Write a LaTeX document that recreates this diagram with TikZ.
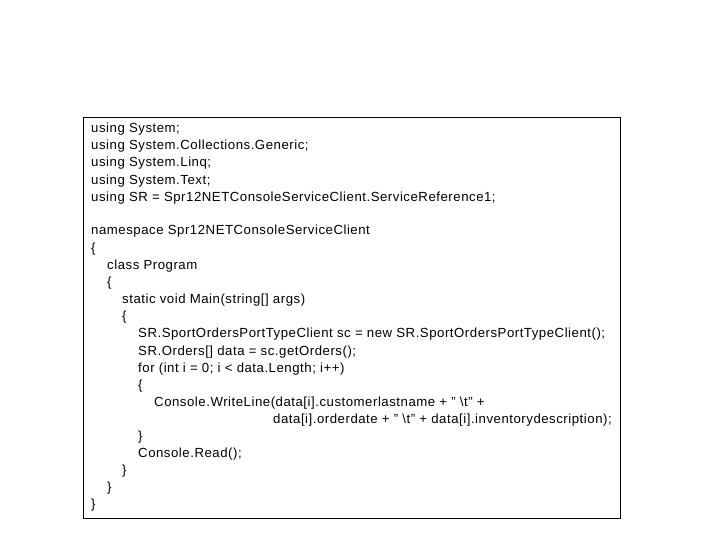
\documentclass[tikz,border=0pt]{standalone}
\usepackage{fontspec}
\setmainfont{Liberation Sans}[LetterSpace=4]
\begin{document}
\begin{tikzpicture}[x=1pt,y=-1pt,
  code/.style={anchor=base west,inner sep=0pt,font=\fontsize{13.2}{14}\selectfont}]
\useasboundingbox (0,0) rectangle (720,540);
\node[draw=black,line width=0.6pt,minimum width=537pt,minimum height=401pt,anchor=north west,inner sep=0pt] (box) at (83,117) {};
\node[code] (l1) at (91,133) {using System;};
\node[code] (l2) at (91,150) {using System.Collections.Generic;};
\node[code] (l3) at (91,167) {using System.Linq;};
\node[code] (l4) at (91,185) {using System.Text;};
\node[code] (l5) at (91,202) {using SR = Spr12NETConsoleServiceClient.ServiceReference1;};
\node[code] (l6) at (91,235) {namespace Spr12NETConsoleServiceClient};
\node[code] (l7) at (91,252) {\{};
\node[code] (l8) at (107,269) {class Program};
\node[code] (l9) at (107,286) {\{};
\node[code] (l10) at (122,303) {static void Main(string[] args)};
\node[code] (l11) at (122,320) {\{};
\node[code] (l12) at (138,337) {SR.SportOrdersPortTypeClient sc = new SR.SportOrdersPortTypeClient();};
\node[code] (l13) at (138,355) {SR.Orders[] data = sc.getOrders();};
\node[code] (l14) at (138,372) {for (int i = 0; i < data.Length; i++)};
\node[code] (l15) at (138,389) {\{};
\node[code] (l16) at (154,406) {Console.WriteLine(data[i].customerlastname + " \textbackslash t" +};
\node[code] (l17) at (273,423) {data[i].orderdate + " \textbackslash t" + data[i].inventorydescription);};
\node[code] (l18) at (138,440) {\}};
\node[code] (l19) at (138,457) {Console.Read();};
\node[code] (l20) at (122,474) {\}};
\node[code] (l21) at (107,491) {\}};
\node[code] (l22) at (91,508) {\}};
\end{tikzpicture}
\end{document}
